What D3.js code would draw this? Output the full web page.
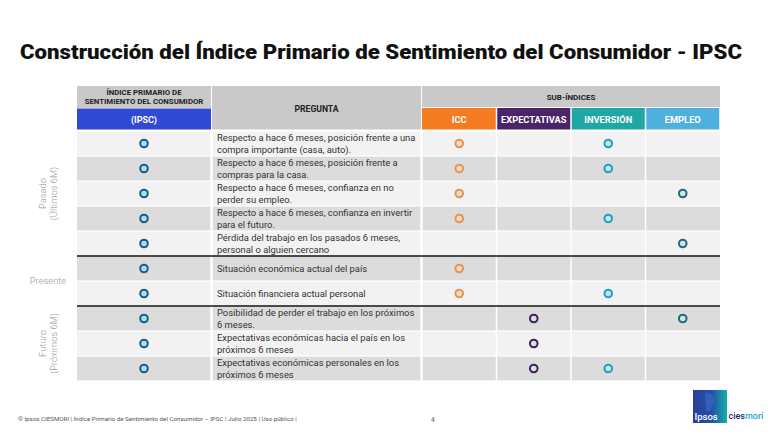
<!DOCTYPE html>
<html><head><meta charset="utf-8">
<script src="https://cdn.jsdelivr.net/npm/d3@7"></script>
<style>body{margin:0;background:#fff;}svg{display:block;font-family:Roboto,"Noto Sans",sans-serif;}</style>
</head><body>
<script>
const questions = [
  ["Respecto a hace 6 meses, posición frente a una","compra importante (casa, auto)."],
  ["Respecto a hace 6 meses, posición frente a","compras para la casa."],
  ["Respecto a hace 6 meses, confianza en no","perder su empleo."],
  ["Respecto a hace 6 meses, confianza en invertir","para el futuro."],
  ["Pérdida del trabajo en los pasados 6 meses,","personal o alguien cercano"],
  ["Situación económica actual del país"],
  ["Situación financiera actual personal"],
  ["Posibilidad de perder el trabajo en los próximos","6 meses."],
  ["Expectativas económicas hacia el país en los","próximos 6 meses"],
  ["Expectativas económicas personales en los","próximos 6 meses"]
];
const subIndices = ["ICC","EXPECTATIVAS","INVERSIÓN","EMPLEO"];
const subColors = ["#f47b20","#4a2468","#1fa7a3","#4fb0de"];
// membership: 1 = question belongs to sub-index
const icc          = [1,1,1,1,0,1,1,0,0,0];
const expectativas = [0,0,0,0,0,0,0,1,1,1];
const inversion    = [1,1,0,1,0,0,1,0,0,1];
const empleo       = [0,0,1,0,1,0,0,1,0,0];
const periods = [
  {lines:["Pasado","(Últimos 6M)"], from:0, to:4, rotate:true},
  {lines:["Presente"], from:5, to:6, rotate:false},
  {lines:["Futuro","(Próximos 6M)"], from:7, to:9, rotate:true}
];
const separatorsAfter = [4,6];

const W=780,H=434;
const svg=d3.select("body").append("svg").attr("width",W).attr("height",H);

// title
svg.append("text").attr("x",20).attr("y",59).attr("font-size",21).attr("font-weight",900)
  .attr("fill","#111").attr("textLength",722).attr("lengthAdjust","spacingAndGlyphs")
  .text("Construcción del Índice Primario de Sentimiento del Consumidor - IPSC");

const y=d3.scaleBand().domain(d3.range(questions.length)).range([131,381]);
const xSub=d3.scaleBand().domain(subIndices).range([422,720]);
const ipscX=[77,211], pregX=[212,421];
const ipscC=(ipscX[0]+ipscX[1])/2;

// header
const g=svg.append("g");
g.append("rect").attr("x",ipscX[0]).attr("y",86).attr("width",ipscX[1]-ipscX[0]).attr("height",22).attr("fill","#c9c9c9");
g.append("rect").attr("x",ipscX[0]).attr("y",108.5).attr("width",ipscX[1]-ipscX[0]).attr("height",21).attr("fill","#3148d3");
g.append("rect").attr("x",pregX[0]).attr("y",86).attr("width",pregX[1]-pregX[0]).attr("height",43.5).attr("fill","#c9c9c9");
g.append("rect").attr("x",422).attr("y",86).attr("width",298).attr("height",21).attr("fill","#c9c9c9");
subIndices.forEach((s,i)=>{
  g.append("rect").attr("x",xSub(s)+(i?0.75:0)).attr("y",108).attr("width",xSub.bandwidth()-(i?0.75:0)-0.75).attr("height",21.5).attr("fill",subColors[i]);
  g.append("text").attr("x",xSub(s)+xSub.bandwidth()/2).attr("y",122.5).attr("text-anchor","middle")
    .attr("font-size",9.3).attr("font-weight",700).attr("fill","#fff").text(s);
});
g.append("text").attr("x",ipscC).attr("y",94.5).attr("text-anchor","middle").attr("font-size",7.8).attr("font-weight",700).attr("fill","#222").text("ÍNDICE PRIMARIO DE");
g.append("text").attr("x",ipscC).attr("y",104).attr("text-anchor","middle").attr("font-size",7.8).attr("font-weight",700).attr("fill","#222").text("SENTIMIENTO DEL CONSUMIDOR");
g.append("text").attr("x",ipscC).attr("y",122.5).attr("text-anchor","middle").attr("font-size",9).attr("font-weight",700).attr("fill","#fff").text("(IPSC)");
g.append("text").attr("x",(pregX[0]+pregX[1])/2).attr("y",111.5).attr("text-anchor","middle").attr("font-size",8.6).attr("font-weight",700).attr("fill","#222").text("PREGUNTA");
g.append("text").attr("x",571).attr("y",100).attr("text-anchor","middle").attr("font-size",8).attr("font-weight",700).attr("fill","#222").text("SUB-ÍNDICES");

// rows
const rows=svg.append("g").selectAll("g").data(questions).join("g");
const cells=[ipscX,pregX].concat(subIndices.map(s=>[xSub(s),xSub(s)+xSub.bandwidth()]));
rows.each(function(q,i){
  const r=d3.select(this);
  const fill=i%2===0?"#f2f2f2":"#dcdcdc";
  cells.forEach((c,j)=>{
    r.append("rect").attr("x",c[0]+(j?0.75:0)).attr("y",y(i)+0.6).attr("width",c[1]-c[0]-(j?0.75:0)-(j===5?0:0.75)).attr("height",y.bandwidth()-1.2).attr("fill",fill);
  });
  const cy=y(i)+y.bandwidth()/2;
  q.forEach((line,k)=>{
    const off=q.length===1?0:(k===0?-5.5:6);
    r.append("text").attr("x",217).attr("y",cy+off+3.3).attr("font-size",9.4).attr("fill","#333").text(line);
  });
});

// separators
separatorsAfter.forEach(i=>{
  svg.append("line").attr("x1",77).attr("x2",720).attr("y1",y(i)+y.bandwidth()).attr("y2",y(i)+y.bandwidth())
    .attr("stroke","#111").attr("stroke-width",1.3);
});

// markers
const markerStyle={
  IPSC:{stroke:"#1e5a86",fill:"#a6e0f2"},
  ICC:{stroke:"#df955c",fill:"#f8d8b6"},
  EXPECTATIVAS:{stroke:"#3b2551",fill:"#e4d9f2"},
  "INVERSIÓN":{stroke:"#2f9cb0",fill:"#b0ecf2"},
  EMPLEO:{stroke:"#2b6677",fill:"#c4e8ee"}
};
const members={ICC:icc,EXPECTATIVAS:expectativas,"INVERSIÓN":inversion,EMPLEO:empleo};
const pts=[];
questions.forEach((q,i)=>{
  pts.push({k:"IPSC",x:ipscC,i});
  subIndices.forEach(s=>{ if(members[s][i]) pts.push({k:s,x:xSub(s)+xSub.bandwidth()/2,i}); });
});
svg.append("g").selectAll("circle").data(pts).join("circle")
  .attr("cx",d=>d.x).attr("cy",d=>y(d.i)+y.bandwidth()/2).attr("r",3.8)
  .attr("fill",d=>markerStyle[d.k].fill).attr("stroke",d=>markerStyle[d.k].stroke).attr("stroke-width",2);

// period labels
periods.forEach(p=>{
  const cy=(y(p.from)+y(p.to)+y.bandwidth())/2;
  if(p.rotate){
    const t=svg.append("g").attr("transform",`translate(48,${cy}) rotate(-90)`);
    p.lines.forEach((l,k)=>t.append("text").attr("x",0).attr("y",(k-(p.lines.length-1)/2)*10.5+3.3)
      .attr("text-anchor","middle").attr("font-size",9.4).attr("font-weight",300).attr("fill","#9a9a9a").text(l));
  } else {
    svg.append("text").attr("x",48).attr("y",cy+3.3).attr("text-anchor","middle").attr("font-size",9.4)
      .attr("font-weight",300).attr("fill","#9a9a9a").text(p.lines[0]);
  }
});

// footer
svg.append("text").attr("x",18).attr("y",421).attr("font-size",6.2).attr("fill","#555")
  .text("© Ipsos CIESMORI | Índice Primario de Sentimiento del Consumidor – IPSC | Julio 2025 | Uso público |");
svg.append("text").attr("x",431).attr("y",422).attr("font-size",6.5).attr("fill","#555").text("4");

// logo
const defs=svg.append("defs");
const gr=defs.append("linearGradient").attr("id","lg").attr("x1","0").attr("x2","1").attr("y1","0").attr("y2","0");
gr.append("stop").attr("offset","0").attr("stop-color","#2b3f9c");
gr.append("stop").attr("offset","0.55").attr("stop-color","#2450a6");
gr.append("stop").attr("offset","1").attr("stop-color","#13b0a6");
svg.append("rect").attr("x",693).attr("y",390).attr("width",34).attr("height",33).attr("fill","url(#lg)");
svg.append("path").attr("d","M705,393 q8,-1 9,6 q1,5 -3,8 l0,4 l-5,0 z").attr("fill","#3a66c4").attr("opacity",0.7);
svg.append("text").attr("x",694.5).attr("y",420).attr("font-size",9.5).attr("font-weight",500).attr("fill","#fff").text("Ipsos");
const lt=svg.append("text").attr("x",728.5).attr("y",419).attr("font-size",9).attr("font-weight",500);
lt.append("tspan").attr("fill","#1b2a6b").text("cies");
lt.append("tspan").attr("fill","#2aa3d8").text("mori");
</script>
</body></html>
